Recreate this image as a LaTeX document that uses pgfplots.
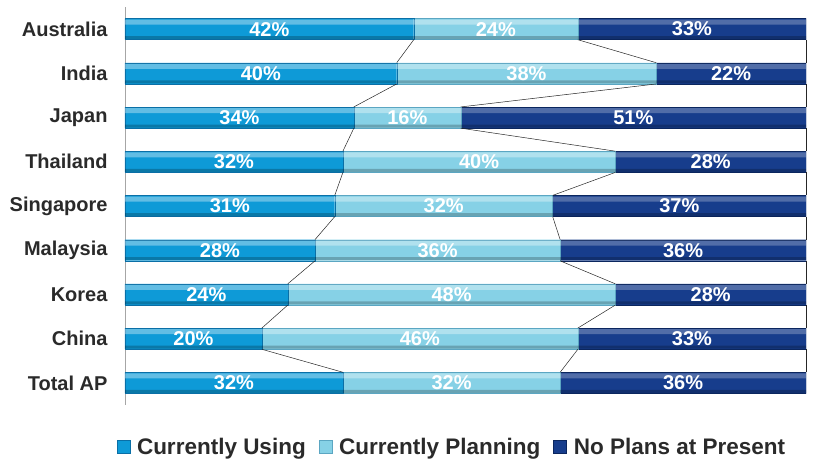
\documentclass[border=0pt]{standalone}
\usepackage{fontspec}
\setmainfont{Liberation Sans}
\usepackage{pgfplots}
\usepackage{pgfplotstable}
\pgfplotsset{compat=1.18}
\definecolor{uMid}{HTML}{0E9AD7}
\definecolor{uBot}{HTML}{0A6FA6}
\definecolor{pMid}{HTML}{86D1E6}
\definecolor{pBot}{HTML}{5BA6C2}
\definecolor{nMid}{HTML}{173D8C}
\definecolor{nBot}{HTML}{0B265E}
\definecolor{labgray}{HTML}{2A2A2A}
\pgfplotstableread{
y use plan none
0 42.4 24.1 33.5
1 39.9 38.1 22.0
2 33.6 15.7 50.7
3 32.0 40.0 28.0
4 30.8 32.0 37.2
5 27.9 36.0 36.1
6 23.9 48.1 28.0
7 20.1 46.4 33.5
8 32.0 31.9 36.1
}\data
\pgfplotsset{base/.style={
  at={(0,0)}, anchor=south west,
  scale only axis, width=681bp, height=398bp,
  xmin=0, xmax=100, ymin=-0.5, ymax=8.5, y dir=reverse}}
\begin{document}
\begin{tikzpicture}
\path[use as bounding box] (-125bp,-62bp) rectangle (689bp,405bp);
% main bars
\begin{axis}[base,
  xbar stacked, bar width=21bp,
  axis x line=none, axis y line*=left,
  y axis line style={draw=gray!70, line width=0.8bp},
  ytick={0,...,8},
  yticklabels={Australia,India,Japan,Thailand,Singapore,Malaysia,Korea,China,Total AP},
  major tick length=0pt,
  yticklabel style={font=\bfseries\fontsize{20bp}{24bp}\selectfont, text=labgray, xshift=-14bp},
  legend style={at={(0.48,-0.105)}, anchor=center, legend columns=-1, draw=none, fill=none,
    font=\bfseries\fontsize{22.5bp}{26bp}\selectfont, text=labgray,
    /tikz/every even column/.append style={column sep=11bp}},
  legend image code/.code={\path[#1] (0bp,-6.5bp) rectangle (13bp,6.5bp); \path (18bp,0bp);},
]
\addplot[fill=uMid, draw=uBot, line width=0.4bp] table[x=use, y=y] {\data};
\addplot[fill=pMid, draw=pBot, line width=0.4bp] table[x=plan, y=y] {\data};
\addplot[fill=nMid, draw=nBot, line width=0.4bp] table[x=none, y=y] {\data};
\legend{Currently Using, Currently Planning, No Plans at Present}
\end{axis}
% top highlight strip
\begin{axis}[base, hide axis, xbar stacked, bar width=5bp, bar shift=7bp]
\addplot[fill=white, fill opacity=0.35, draw=none] table[x=use, y=y] {\data};
\addplot[fill=white, fill opacity=0.35, draw=none] table[x=plan, y=y] {\data};
\addplot[fill=white, fill opacity=0.25, draw=none] table[x=none, y=y] {\data};
\end{axis}
% bottom shade strip
\begin{axis}[base, hide axis, xbar stacked, bar width=3bp, bar shift=-8.5bp]
\addplot[fill=black, fill opacity=0.22, draw=none] table[x=use, y=y] {\data};
\addplot[fill=black, fill opacity=0.22, draw=none] table[x=plan, y=y] {\data};
\addplot[fill=black, fill opacity=0.22, draw=none] table[x=none, y=y] {\data};
\end{axis}
% series lines and labels
\begin{axis}[base, hide axis, unbounded coords=jump, clip=false]
\addplot[black!85, line width=0.5bp] coordinates {
 (42.4,0.24) (39.9,0.76) (nan,nan)
 (39.9,1.24) (33.6,1.76) (nan,nan)
 (33.6,2.24) (32.0,2.76) (nan,nan)
 (32.0,3.24) (30.8,3.76) (nan,nan)
 (30.8,4.24) (27.9,4.76) (nan,nan)
 (27.9,5.24) (23.9,5.76) (nan,nan)
 (23.9,6.24) (20.1,6.76) (nan,nan)
 (20.1,7.24) (32.0,7.76)};
\addplot[black!85, line width=0.5bp] coordinates {
 (66.5,0.24) (78.0,0.76) (nan,nan)
 (78.0,1.24) (49.3,1.76) (nan,nan)
 (49.3,2.24) (72.0,2.76) (nan,nan)
 (72.0,3.24) (62.8,3.76) (nan,nan)
 (62.8,4.24) (63.9,4.76) (nan,nan)
 (63.9,5.24) (72.0,5.76) (nan,nan)
 (72.0,6.24) (66.5,6.76) (nan,nan)
 (66.5,7.24) (63.9,7.76)};
\addplot[black!85, line width=0.5bp] coordinates {
 (100,0.24) (100,0.76) (nan,nan)
 (100,1.24) (100,1.76) (nan,nan)
 (100,2.24) (100,2.76) (nan,nan)
 (100,3.24) (100,3.76) (nan,nan)
 (100,4.24) (100,4.76) (nan,nan)
 (100,5.24) (100,5.76) (nan,nan)
 (100,6.24) (100,6.76) (nan,nan)
 (100,7.24) (100,7.76)};
\addplot[draw=none, mark=none, nodes near coords, point meta=explicit symbolic,
  every node near coord/.append style={anchor=center, text=white, inner sep=0pt,
    font=\bfseries\fontsize{20bp}{22bp}\selectfont}]
  coordinates {
  (21.2,0) [42\%] (54.45,0) [24\%] (83.25,0) [33\%]
  (19.95,1) [40\%] (58.95,1) [38\%] (89.0,1) [22\%]
  (16.8,2) [34\%] (41.45,2) [16\%] (74.65,2) [51\%]
  (16.0,3) [32\%] (52.0,3) [40\%] (86.0,3) [28\%]
  (15.4,4) [31\%] (46.8,4) [32\%] (81.4,4) [37\%]
  (13.95,5) [28\%] (45.9,5) [36\%] (81.95,5) [36\%]
  (11.95,6) [24\%] (47.95,6) [48\%] (86.0,6) [28\%]
  (10.05,7) [20\%] (43.3,7) [46\%] (83.25,7) [33\%]
  (16.0,8) [32\%] (47.95,8) [32\%] (81.95,8) [36\%]};
\end{axis}
\end{tikzpicture}
\end{document}
